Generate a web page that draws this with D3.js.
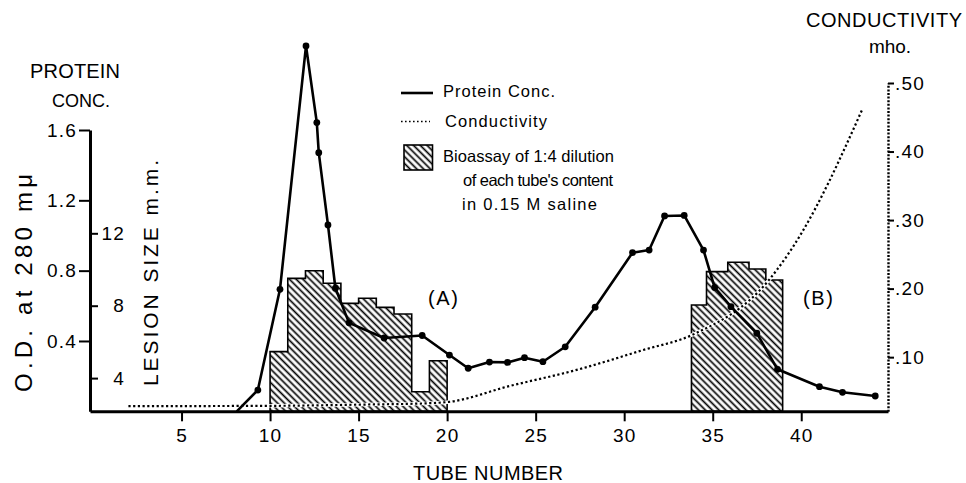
<!DOCTYPE html>
<html>
<head>
<meta charset="utf-8">
<script src="https://cdn.jsdelivr.net/npm/d3@7"></script>
<style>
body { margin: 0; background: #fff; }
svg { font-family: "Liberation Sans", Arial, sans-serif; }
</style>
</head>
<body>
<div id="viz"></div>
<script>
// values
var tubeTicks = [5, 10, 15, 20, 25, 30, 35, 40]
var odTicks = [0.4, 0.8, 1.2, 1.6]
var lesionTicks = [4, 8, 12]
var condTicks = [0.1, 0.2, 0.3, 0.4, 0.5]

var proteinTube = [8.12, 9.31, 10.56, 12.03, 12.64, 12.75, 13.27, 13.69, 14.46, 16.44, 18.59,
  20.13, 21.19, 22.39, 23.41, 24.37, 25.41, 26.67, 28.36, 30.47, 31.41, 32.28, 33.39,
  34.48, 35.11, 36.03, 37.49, 38.66, 41.03, 42.33, 44.18]
var proteinOD = [0, 0.121, 0.694, 2.078, 1.642, 1.471, 1.06, 0.7, 0.503, 0.417, 0.431,
  0.32, 0.245, 0.28, 0.278, 0.305, 0.282, 0.367, 0.592, 0.902, 0.917, 1.111, 1.114,
  0.917, 0.704, 0.595, 0.444, 0.239, 0.14, 0.108, 0.087]

var condTube = [2.0, 10.15, 15.0, 19.0, 20.1, 23.5, 27.26, 31.02, 33.94, 38.17, 40.05, 41.55, 42.49, 43.43]
var condValue = [0.0285, 0.029, 0.0307, 0.0328, 0.0347, 0.0577, 0.081, 0.110, 0.1336, 0.2124, 0.2825, 0.355, 0.4066, 0.4606]

var bioATube = [10, 11, 12, 13, 14, 15, 16, 17, 18, 19]
var bioALesion = [5.46, 9.51, 9.93, 9.24, 8.13, 8.41, 7.91, 7.54, 3.25, 4.96]
var bioBTube = [33.8, 34.65, 35.85, 37.05, 38.0]
var bioBLesion = [8.04, 9.88, 10.4, 10.03, 9.42]
var bioBEnd = 38.95

var legendLines = ["Bioassay of 1:4 dilution", "of each tube's content", "in 0.15 M saline"]

const w = 966, h = 483

var svg = d3.select('#viz').append('svg')
  .attr('width', w).attr('height', h)

// hatch
var defs = svg.append('defs')
defs.append('pattern')
  .attr('id', 'hatch')
  .attr('patternUnits', 'userSpaceOnUse')
  .attr('width', 4.8).attr('height', 4.8)
  .attr('patternTransform', 'rotate(45)')
  .append('line')
  .attr('x1', 0).attr('x2', 4.8)
  .attr('y1', 2.4).attr('y2', 2.4)
  .attr('stroke', '#000').attr('stroke-width', 1.7)

// scales
var x = d3.scaleLinear().domain([-0.17, 44.9]).range([90, 888])
var yOD = d3.scaleLinear().domain([0, 1.6]).range([411.3, 130])
var yLesion = d3.scaleLinear().domain([0, 12]).range([450.5, 233.3])
var yCond = d3.scaleLinear().domain([0.021, 0.5]).range([411.3, 83])

// bioassay bars
var bars = d3.area()
  .curve(d3.curveStepAfter)
  .x(d => x(d.t))
  .y0(yOD(0))
  .y1(d => yLesion(d.v))

function stepData(tubes, vals, end) {
  var a = tubes.map((t, i) => ({t: t, v: vals[i]}))
  a.push({t: end, v: vals[vals.length - 1]})
  return a
}

svg.selectAll('.bio')
  .data([stepData(bioATube, bioALesion, 20), stepData(bioBTube, bioBLesion, bioBEnd)])
  .enter()
  .append('path')
  .attr('class', 'bio')
  .attr('d', bars)
  .attr('fill', 'url(#hatch)')
  .attr('stroke', '#000')
  .attr('stroke-width', 1.6)

// conductivity
var condData = condTube.map((t, i) => ({t: t, v: condValue[i]}))
var condLine = d3.line().curve(d3.curveMonotoneX).x(d => x(d.t)).y(d => yCond(d.v))

svg.append('path').datum(condData)
  .attr('d', condLine).attr('fill', 'none')
  .attr('stroke', '#fff').attr('stroke-width', 3.5)
svg.append('path').datum(condData)
  .attr('d', condLine).attr('fill', 'none')
  .attr('stroke', '#000').attr('stroke-width', 2.2)
  .attr('stroke-dasharray', '2.2 2.5')

// protein
var protData = proteinTube.map((t, i) => ({t: t, v: proteinOD[i]}))
svg.append('path').datum(protData)
  .attr('d', d3.line().x(d => x(d.t)).y(d => yOD(d.v)))
  .attr('fill', 'none').attr('stroke', '#000')
  .attr('stroke-width', 2.6).attr('stroke-linejoin', 'round')

svg.selectAll('.dot')
  .data(protData.slice(1))
  .enter()
  .append('circle')
  .attr('class', 'dot')
  .attr('cx', d => x(d.t))
  .attr('cy', d => yOD(d.v))
  .attr('r', 3.4)

// axes
var xAxis = svg.append('g')
  .attr('transform', 'translate(0,' + yOD(0) + ')')
  .call(d3.axisBottom(x).tickValues(tubeTicks).tickSize(10).tickSizeOuter(0).tickPadding(7))
xAxis.select('.domain').attr('stroke-width', 3)

var odAxis = svg.append('g')
  .attr('transform', 'translate(90,0)')
  .call(d3.axisLeft(yOD).tickValues(odTicks).tickSize(11).tickSizeOuter(0).tickPadding(2)
    .tickFormat(d3.format('.1f')))
odAxis.select('.domain').attr('stroke-width', 3)

var lesionAxis = svg.append('g')
  .attr('transform', 'translate(90,0)')
  .call(d3.axisRight(yLesion).tickValues(lesionTicks).tickSize(8))
lesionAxis.select('.domain').remove()

var condAxis = svg.append('g')
  .attr('transform', 'translate(888,0)')
  .call(d3.axisRight(yCond).tickValues(condTicks).tickSize(6).tickSizeOuter(0).tickPadding(1)
    .tickFormat(d => d3.format('.2f')(d).replace(/^0/, '')))
condAxis.select('.domain').attr('stroke-width', 2.4).attr('stroke-dasharray', '2 1.6')

svg.selectAll('.tick line').attr('stroke-width', 2)
svg.selectAll('.tick text').attr('font-size', 19).attr('fill', '#000')
  .style('font-family', '"Liberation Sans", Arial, sans-serif')
  .style('letter-spacing', '1.2px')
lesionAxis.selectAll('.tick text').attr('x', 35).attr('text-anchor', 'end')

// titles
function label(txt, tx, ty, size, len, rot) {
  var t = svg.append('text')
    .attr('text-anchor', 'middle')
    .attr('font-size', size)
    .attr('transform', 'translate(' + tx + ',' + ty + ')' + (rot ? ' rotate(-90)' : ''))
    .text(txt)
  if (len) t.attr('textLength', len).attr('lengthAdjust', 'spacing')
  return t
}

label('PROTEIN', 75, 78, 20, 90)
label('CONC.', 81, 107, 18)
label('O.D. at 280 m\u03bc', 32, 283, 24, 218, true)
label('LESION SIZE m.m.', 158, 273, 21, 226, true)
label('CONDUCTIVITY', 884, 27, 20, 156)
label('mho.', 890, 53, 19)
label('TUBE NUMBER', 488, 480, 20, 150)
label('(A)', 443, 305, 20, 30)
label('(B)', 818, 305, 20, 30)

// legend
var lg = svg.append('g')
lg.append('line').attr('x1', 401).attr('x2', 433).attr('y1', 93).attr('y2', 93)
  .attr('stroke', '#000').attr('stroke-width', 2.6)
lg.append('line').attr('x1', 401).attr('x2', 430).attr('y1', 121.5).attr('y2', 121.5)
  .attr('stroke', '#000').attr('stroke-width', 1.6).attr('stroke-dasharray', '1.6 2.4')
lg.append('rect').attr('x', 404).attr('y', 145).attr('width', 28.5).attr('height', 25)
  .attr('fill', 'url(#hatch)').attr('stroke', '#000').attr('stroke-width', 1.6)

var legText = [
  {s: 'Protein Conc.', x: 443, y: 97, len: 112},
  {s: 'Conductivity', x: 445, y: 127, len: 102},
  {s: legendLines[0], x: 443, y: 161.5, len: 171},
  {s: legendLines[1], x: 463, y: 185.5, len: 150},
  {s: legendLines[2], x: 462, y: 210, len: 135}
]
lg.selectAll('text.leg')
  .data(legText)
  .enter()
  .append('text')
  .attr('class', 'leg')
  .attr('x', d => d.x).attr('y', d => d.y)
  .attr('font-size', 16.5)
  .attr('textLength', d => d.len).attr('lengthAdjust', 'spacing')
  .text(d => d.s)
</script>
</body>
</html>
